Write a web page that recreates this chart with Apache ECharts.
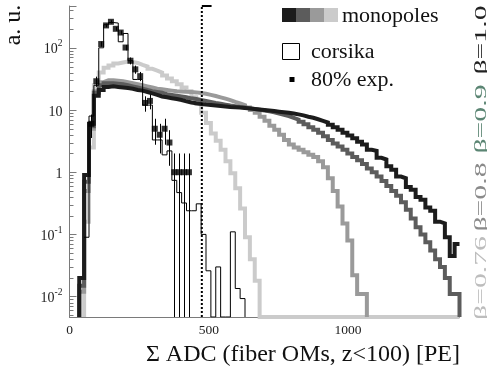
<!DOCTYPE html>
<html><head><meta charset="utf-8">
<script src="https://cdn.jsdelivr.net/npm/echarts@6/dist/echarts.min.js"></script>
<style>html,body{margin:0;padding:0;background:#fff}#c{width:487px;height:371px}</style>
</head><body><div id="c"></div>
<script>
// ---- binning / axes ----
const BIN_WIDTH = 17.5;          // PE per bin
const X_MIN = 0, X_MAX = 1400;
const Y_MIN = 0.0047, Y_MAX = 470;
const X_TICK_LABELS = [0, 500, 1000];
const CUT_PE = 475;
const CUT_MARK_LEN = 35;

// ---- monopole histograms (bin contents, bin 0 = 0..17.5 PE) ----
const beta100 = [0,0,0.02,0.9,6,17,21,23.5,24,23.5,
  23,22.5,22,21,20.5,19.5,18.5,17.5,16.5,16,
  15.5,15,14.5,13.8,13.2,12.8,12.5,12.2,12,11.8,
  11.6,11.4,11.2,11.1,11,10.8,10.6,10.4,10.2,10,
  9.8,9.6,9.4,9.2,9,8.8,8.5,8.2,7.8,7.5,
  7.1,6.7,6.3,5.8,5.3,4.8,4.3,3.9,3.5,3.1,
  2.8,2.3,2.2,1.7,1.6,1.25,1.1,0.85,0.8,0.58,
  0.52,0.4,0.36,0.27,0.24,0.16,0.15,0.09,0.045,0.07];
const beta090 = [0,0,0.015,0.7,5.5,19,25,27,27,26.5,
  26,25,24,23,22,21,20,19.5,19,18,
  17.5,17,16.5,16,15.4,15,14.5,14,13.5,13,
  12.6,12.2,11.8,11.5,11.2,11,10.7,10.4,10.1,9.8,
  9.5,9.2,8.8,8.4,8,7.5,7,6.5,5.9,5.3,
  4.8,4.3,3.8,3.3,2.9,2.6,2.3,2.0,1.75,1.55,
  1.35,1.15,1.0,0.85,0.72,0.6,0.5,0.42,0.33,0.25,
  0.18,0.13,0.1,0.075,0.055,0.04,0.03,0.02,0.011,0.011];
const beta080 = [0,0,0.012,0.5,5,20,28,30,30,29.5,
  29,28,27,26,25,24,23,22,21.5,21,
  20.5,20,19.8,19.6,19.5,19.2,18.8,18.2,17.5,16.8,
  16,15.2,14.4,13.5,12.8,12,11,10,9,7.8,
  6.7,5.6,4.8,4.0,3.3,2.8,2.5,2.3,2.1,1.9,
  1.75,1.5,1.2,0.8,0.5,0.28,0.15,0.08,0.022,0.011,0.011];
const beta076 = [0,0,0,0.16,2.5,25,40,48,52,56,
  58,60,59,57,53,50,46,43,40,36,
  32,29,26,23,20,16,12.5,9,6.2,4.2,
  3.2,2.3,1.5,0.96,0.55,0.26,0.09,0.04,0.018,0,
  0,0,0,0,0,0,0,0,0,0,
  0,0,0,0,0,0,0,0,0,0,
  0,0,0,0,0,0,0,0,0,0,
  0,0,0,0,0,0,0,0,0,0];

// ---- corsika simulation ----
const corsika = [0,0,0,0.09,8,25,100,235,255,250,
  125,170,62,31,31,12,12,3.3,3.3,1.9,
  2.2,0.74,0.47,0.32,0.24,0.24,0.31,0.1,0.026,0,
  0.03,0,0,0.11,0.0135,0.0093];

// ---- 80% experimental data (counts per bin) ----
const expCounts = [null,null,null,null,6,29,115,229,262,202,
  176,101,62,45,35,13,14,5,4,5,
  3,1,1,1,1];

// ---- labels ----
const betaLabels = ['β=0.76', 'β=0.8', 'β=0.9', 'β=1.0'];
const betaColors = ['#cbcbcb', '#9a9a9a', '#5c5c5c', '#1c1c1c'];
const betaLabelColors = ['#bdbdbd', '#8a8a8a', '#5b8573', '#222222'];
const legendTexts = ['monopoles', 'corsika', '80% exp.'];
const xTitle = 'Σ ADC (fiber OMs, z<100) [PE]';
const yTitle = 'a. u.';

const FONT = '"Liberation Serif", "DejaVu Serif", serif';

function histPoints(values, dropAtEnd, riseFromFloor) {
  const first = values.findIndex(v => v > 0);
  const n = values.length;
  const pts = riseFromFloor ? [[first * BIN_WIDTH, Y_MIN]] : [];
  for (let i = first; i < n; i++) pts.push([i * BIN_WIDTH, values[i] > 0 ? values[i] : Y_MIN]);
  pts.push([n * BIN_WIDTH, values[n - 1] > 0 ? values[n - 1] : Y_MIN]);
  if (dropAtEnd) pts.push([n * BIN_WIDTH, Y_MIN]);
  return pts;
}

function histSeries(values, color, width, dropAtEnd, z, riseFromFloor) {
  return {
    type: 'line', step: 'end', symbol: 'none', silent: true, z: z,
    data: histPoints(values, dropAtEnd, riseFromFloor),
    lineStyle: { color: color, width: width, join: 'miter', cap: 'butt' },
    clip: true, animation: false
  };
}

const expPoints = [];
expCounts.forEach((v, i) => { if (v != null) expPoints.push([(i + 0.5) * BIN_WIDTH, v]); });

// minor log ticks
const minorTicks = [];
for (let e = -3; e <= 2; e++) for (let k = 2; k <= 9; k++) {
  const v = k * Math.pow(10, e);
  if (v > Y_MIN && v < Y_MAX) minorTicks.push([X_MIN, v]);
}

const chart = echarts.init(document.getElementById('c'), null, { renderer: 'canvas' });

const supLabel = v => {
  const l = Math.log10(v), r = Math.round(l);
  if (Math.abs(l - r) > 1e-6) return '';
  if (r === 0) return '{b|1}';
  if (r === 1) return '{b|10}';
  return '{b|10}{s|' + r + '}';
};

function betaText(i, y) {
  return { type: 'text', x: 481, y: y, rotation: Math.PI / 2, scaleX: 1.7,
    style: { text: betaLabels[i], font: '17.5px ' + FONT, fill: betaLabelColors[i], align: 'center', verticalAlign: 'middle' } };
}

chart.setOption({
  animation: false,
  backgroundColor: '#fff',
  grid: { left: 69.5, top: 6, width: 390, height: 311, containLabel: false },
  xAxis: {
    type: 'value', min: X_MIN, max: X_MAX, interval: 500,
    axisLine: { show: true, lineStyle: { color: '#7a7a7a', width: 1 } },
    axisTick: { show: false }, splitLine: { show: false },
    axisLabel: {
      showMaxLabel: false, margin: 6,
      formatter: v => X_TICK_LABELS.indexOf(v) >= 0 ? String(v) : '',
      fontFamily: FONT, fontSize: 13.5, color: '#222'
    }
  },
  yAxis: {
    type: 'log', logBase: 10, min: Y_MIN, max: Y_MAX,
    axisLine: { show: true, lineStyle: { color: '#7a7a7a', width: 1 } },
    axisTick: { show: true, inside: true, length: 7, lineStyle: { color: '#7a7a7a' } },
    splitLine: { show: false },
    axisLabel: {
      margin: 7, formatter: supLabel,
      rich: {
        b: { fontFamily: FONT, fontSize: 14, color: '#222', lineHeight: 18, verticalAlign: 'bottom' },
        s: { fontFamily: FONT, fontSize: 9.5, color: '#222', lineHeight: 9, verticalAlign: 'top' }
      }
    }
  },
  series: [
    histSeries(beta076, betaColors[0], 4, false, 2, true),
    histSeries(beta080, betaColors[1], 4, true, 3, true),
    histSeries(beta090, betaColors[2], 4, true, 4, true),
    histSeries(beta100, betaColors[3], 4, false, 5, true),
    histSeries(corsika, '#000', 1, true, 6, false),
    {
      type: 'custom', z: 7, silent: true, data: expPoints,
      renderItem: (params, api) => {
        const x = api.value(0), v = api.value(1), err = Math.sqrt(v);
        const p1 = api.coord([x, Math.max(v - err, Y_MIN)]);
        const p2 = api.coord([x, v + err]);
        return { type: 'line', shape: { x1: Math.round(p1[0]) + 0.5, y1: p1[1], x2: Math.round(p1[0]) + 0.5, y2: p2[1] },
          style: { stroke: '#000', lineWidth: 1 } };
      }
    },
    {
      type: 'scatter', z: 8, silent: true, data: expPoints,
      symbol: 'rect', symbolSize: 6, itemStyle: { color: '#000' }
    },
    {
      type: 'line', z: 9, silent: true, symbol: 'none', clip: false,
      data: [[CUT_PE, Y_MIN], [CUT_PE, Y_MAX]],
      lineStyle: { color: '#000', width: 2, type: 'dotted' }
    },
    {
      type: 'line', z: 9, silent: true, symbol: 'none', clip: false,
      data: [[CUT_PE, Y_MAX], [CUT_PE + CUT_MARK_LEN, Y_MAX]],
      lineStyle: { color: '#000', width: 2 }
    },
    {
      type: 'custom', z: 1, silent: true, data: minorTicks,
      renderItem: (params, api) => {
        const p = api.coord([api.value(0), api.value(1)]);
        const y = Math.round(p[1]) + 0.5;
        return { type: 'line', shape: { x1: p[0], y1: y, x2: p[0] + 4, y2: y },
          style: { stroke: '#7a7a7a', lineWidth: 1 } };
      }
    }
  ],
  graphic: [
    // axis titles
    { type: 'text', x: 460, y: 355, style: { text: xTitle, font: '24px ' + FONT, fill: '#111', align: 'right', verticalAlign: 'middle' } },
    { type: 'text', x: 14, y: 25, rotation: Math.PI / 2, style: { text: yTitle, font: '24px ' + FONT, fill: '#111', align: 'center', verticalAlign: 'middle' } },
    // legend
    { type: 'rect', shape: { x: 282, y: 8, width: 14, height: 14 }, style: { fill: betaColors[3] } },
    { type: 'rect', shape: { x: 296, y: 8, width: 14, height: 14 }, style: { fill: betaColors[2] } },
    { type: 'rect', shape: { x: 310, y: 8, width: 14, height: 14 }, style: { fill: betaColors[1] } },
    { type: 'rect', shape: { x: 324, y: 8, width: 14, height: 14 }, style: { fill: betaColors[0] } },
    { type: 'text', x: 342, y: 16, style: { text: legendTexts[0], font: '22px ' + FONT, fill: '#111', verticalAlign: 'middle' } },
    { type: 'rect', shape: { x: 282.5, y: 43.5, width: 17, height: 16 }, style: { fill: '#fff', stroke: '#000', lineWidth: 1 } },
    { type: 'text', x: 311, y: 52, style: { text: legendTexts[1], font: '22px ' + FONT, fill: '#111', verticalAlign: 'middle' } },
    { type: 'rect', shape: { x: 289.5, y: 77, width: 5, height: 5 }, style: { fill: '#000' } },
    { type: 'text', x: 311, y: 80, style: { text: legendTexts[2], font: '22px ' + FONT, fill: '#111', verticalAlign: 'middle' } },
    // beta labels (rotated, stretched)
    betaText(0, 278), betaText(1, 197), betaText(2, 119), betaText(3, 40)
  ]
});
</script>
</body></html>
